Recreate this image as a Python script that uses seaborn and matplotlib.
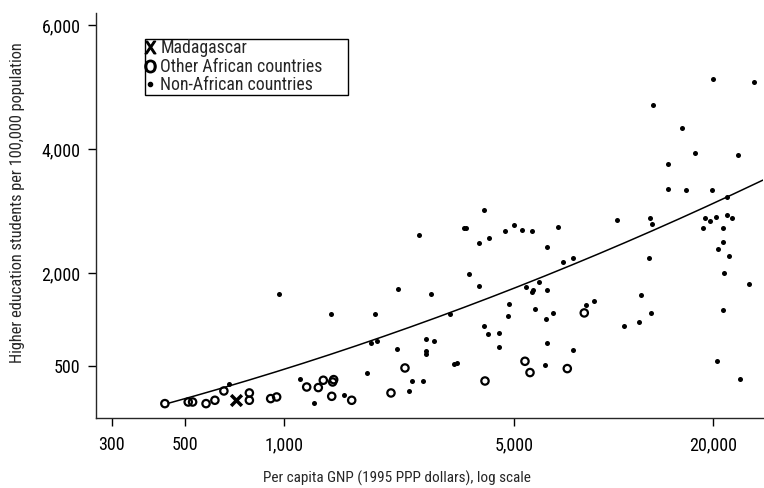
import numpy as np
import pandas as pd
import matplotlib
matplotlib.use("Agg")
import matplotlib.pyplot as plt
from matplotlib import font_manager
from matplotlib.lines import Line2D
from matplotlib.ticker import FixedLocator, FixedFormatter, NullLocator
import seaborn as sns

# ---- data: per capita GNP (1995 PPP $) and higher-education students per 100,000 ----
madagascar_gnp = [715]
madagascar_students = [-53]

africa_gnp = [435, 512, 528, 580, 617, 657, 785, 785, 911, 950,
              1172, 1271, 1316, 1405, 1415, 1396, 1605, 2112, 2329,
              4074, 5387, 5580, 7241, 8153]
africa_students = [-107, -81, -81, -107, -53, 97, 65, -53, -26, 0,
                   161, 152, 270, 242, 280, 11, -53, 65, 468,
                   258, 576, 394, 458, 1356]

other_gnp = [681, 968, 1388, 1118, 1233, 1524,
             4055, 3530, 3570, 4978, 4694, 5287, 5645, 6771, 2564, 4191,
             3915, 6284, 3643, 3898, 2218, 2799, 5414, 5941, 5685, 5645,
             6284, 1889, 3191, 4807, 4784, 5789, 6538, 6226, 4046, 4161,
             4502, 4502, 6284, 1837, 1920, 2692, 2852, 2198, 2704, 2690,
             3290, 3350, 1786, 6183, 2447, 2636, 2401,
             20090, 26750, 13150, 16180, 17680, 23820, 14670, 14640, 16600,
             19910, 22060,
             10270, 12910, 13110, 18960, 19670, 20430, 22060, 22850, 18660,
             21450, 21540, 20800, 22370, 12790, 7026, 7518, 21690, 25730,
             12090, 8709, 8250, 13020, 11930, 10790, 21540, 7518, 20610,
             24210]
other_students = [205, 1658, 1346, 297, -97, 39,
                  3014, 2728, 2728, 2776, 2670, 2686, 2670, 2744, 2610, 2562,
                  2476, 2421, 1981, 1787, 1739, 1663, 1776, 1852, 1722, 1690,
                  1718, 1340, 1340, 1501, 1303, 1416, 1356, 1259, 1153, 1017,
                  1033, 814, 872, 878, 904, 936, 904, 770, 701, 738,
                  530, 555, 394, 512, 253, 258, 103,
                  5128, 5075, 4704, 4337, 3929, 3902, 3751, 3353, 3337,
                  3337, 3228,
                  2857, 2889, 2793, 2880, 2841, 2906, 2933, 2880, 2718,
                  2718, 2497, 2384, 2271, 2244, 2170, 2244, 2002, 1824,
                  1642, 1545, 1480, 1362, 1211, 1153, 1400, 754, 576,
                  291]

# points
trend_gnp = [435, 681, 1479, 3191, 6640, 22060, 27390]
trend_students = [-134, 205, 738, 1340, 2029, 3228, 3454]

x_ticks = [300, 500, 1000, 5000, 20000]
x_ticklabels = ["300", "500", "1,000", "5,000", "20,000"]
y_ticks = [500, 2000, 4000, 6000]
y_ticklabels = ["500", "2,000", "4,000", "6,000"]

sns.set_style("ticks")

# prefer a narrow sans face when one is installed
fonts = font_manager.fontManager.ttflist
names = {f.name for f in fonts}
family, stretch, narrow = "Liberation Sans", "normal", False
for cand in ["Liberation Sans Narrow", "Arial Narrow", "Roboto Condensed",
             "Open Sans Condensed", "Noto Sans Condensed"]:
    if cand in names:
        family, narrow = cand, True
        break
else:
    for f in fonts:
        if f.name in ("DejaVu Sans", "Roboto", "Noto Sans", "Open Sans") and \
                str(f.stretch) in ("condensed", "semi-condensed", "75", "87.5") \
                and f.style == "normal":
            family, stretch, narrow = f.name, "condensed", True
            break
plt.rcParams["font.family"] = [family, "DejaVu Sans"]
plt.rcParams["font.stretch"] = stretch
plt.rcParams["axes.linewidth"] = 1.0

xlabel_size = 11.0 if narrow else 9.8
ylabel_size = 11.8 if narrow else 10.3
legend_size = 12.8 if narrow else 11.3
tick_size = 13.0 if narrow else 12.0

fig = plt.figure(figsize=(7.64, 4.88), dpi=100)
ax = fig.add_axes([0.12565, 0.14344, 0.87304, 0.82992])

mad = pd.DataFrame({"gnp": madagascar_gnp, "students": madagascar_students})
afr = pd.DataFrame({"gnp": africa_gnp, "students": africa_students})
oth = pd.DataFrame({"gnp": other_gnp, "students": other_students})

sns.scatterplot(data=oth, x="gnp", y="students", ax=ax, marker="o", s=13,
                color="black", edgecolor="black", linewidth=0, zorder=3)
sns.scatterplot(data=afr, x="gnp", y="students", ax=ax, marker="o", s=28,
                facecolors="none", edgecolor="black", linewidth=1.6, zorder=3)
sns.scatterplot(data=mad, x="gnp", y="students", ax=ax, marker="x", s=60,
                color="black", linewidth=2.5, zorder=4)

# smooth trend through the read curve points (quadratic in log GNP)
coef = np.polyfit(np.log10(trend_gnp), trend_students, 2)
grid = np.logspace(np.log10(trend_gnp[0]) + 0.01, np.log10(28400), 200)
trend = pd.DataFrame({"gnp": grid, "students": np.polyval(coef, np.log10(grid))})
sns.lineplot(data=trend, x="gnp", y="students", ax=ax, color="black",
             linewidth=1.1, zorder=2)

ax.set_xscale("log")
ax.set_xlim(268.8, 28430)
ax.set_ylim(-339, 6194)
ax.xaxis.set_major_locator(FixedLocator(x_ticks))
ax.xaxis.set_major_formatter(FixedFormatter(x_ticklabels))
ax.xaxis.set_minor_locator(NullLocator())
ax.yaxis.set_major_locator(FixedLocator(y_ticks))
ax.yaxis.set_major_formatter(FixedFormatter(y_ticklabels))
ax.tick_params(axis="both", length=6, width=1.0, color="black",
               labelsize=tick_size, labelcolor="black")
ax.tick_params(axis="x", pad=7)
ax.tick_params(axis="y", pad=5)
sns.despine(ax=ax)

ax.set_xlabel("Per capita GNP (1995 PPP dollars), log scale", fontsize=xlabel_size)
ax.set_ylabel("Higher education students per 100,000 population", fontsize=ylabel_size)
ax.xaxis.set_label_coords(0.451, -0.13)
ax.yaxis.set_label_coords(-0.107, 0.532)

handles = [
    Line2D([], [], linestyle="none", marker="$\\mathsf{X}$", markersize=9,
           color="black"),
    Line2D([], [], linestyle="none", marker="$\\mathsf{O}$", markersize=9,
           color="black"),
    Line2D([], [], linestyle="none", marker="o", markersize=3,
           color="black"),
]
labels = ["Madagascar", "Other African countries", "Non-African countries"]
leg = ax.legend(handles, labels, loc="upper left", mode="expand",
                bbox_to_anchor=(0.0735, 0.9358, 0.3043, 0.0),
                frameon=True, fancybox=False,
                edgecolor="black", framealpha=1, fontsize=legend_size,
                handlelength=0.55, handletextpad=0.3, labelspacing=0.03,
                borderpad=0.02, borderaxespad=0)
leg.get_frame().set_linewidth(1.0)

fig.savefig("out.png", dpi=100)
